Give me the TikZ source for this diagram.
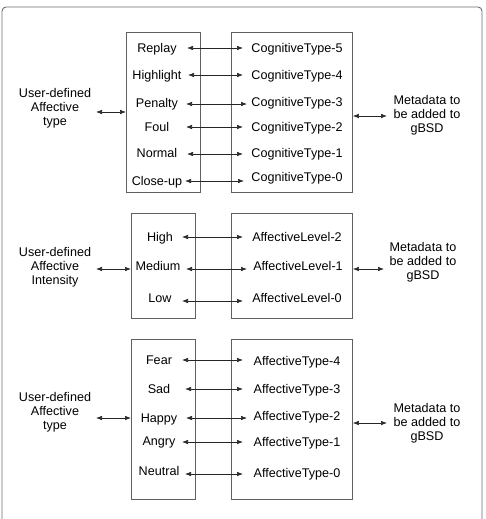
\documentclass[tikz,border=0pt]{standalone}
\usepackage{fontspec}
\setmainfont{Liberation Sans}
\usetikzlibrary{arrows.meta}
\begin{document}
\begin{tikzpicture}[x=1pt,y=-1pt,
  font=\fontsize{12.6}{14}\selectfont,
  frame/.style={draw=gray!85!black, line width=0.9pt, rounded corners=4pt},
  box/.style={draw=gray!75!black, line width=0.9pt, anchor=north west, inner sep=0pt},
  lbl/.style={inner sep=0pt, text height=9pt, text depth=0pt, anchor=center},
  multi/.style={inner sep=0pt, align=center, anchor=center},
  conn/.style={{Latex[length=6pt,width=4.5pt]}-{Latex[length=6pt,width=4.5pt]}, line width=0.6pt, draw=black!85}]
\useasboundingbox (0,0) rectangle (486,519);
\draw[frame] (2,530) -- (2,7) -- (482,7) -- (482,530);

% ---------- block 1 ----------
\node[box, minimum width=74pt, minimum height=160pt] (l1) at (126,32) {};
\node[box, minimum width=121pt, minimum height=160pt] (r1) at (231,32) {};
\foreach \n/\y/\a/\b [count=\i] in {
  Replay/CognitiveType-5/48/48,
  Highlight/CognitiveType-4/75/75,
  Penalty/CognitiveType-3/103/102,
  Foul/CognitiveType-2/127/127,
  Normal/CognitiveType-1/153/153,
  Close-up/CognitiveType-0/181/177}{
  \node[lbl] (la\i) at (157,\a) {\n};
  \node[lbl] (ra\i) at (297,\b) {\y};
}
\coordinate (p1) at (187,48);  \coordinate (q1) at (243,48);
\coordinate (p2) at (188,75);  \coordinate (q2) at (243,75);
\coordinate (p3) at (186,104); \coordinate (q3) at (247,104);
\coordinate (p4) at (186,127); \coordinate (q4) at (243,127);
\coordinate (p5) at (187,154); \coordinate (q5) at (243,154);
\coordinate (p6) at (185,181); \coordinate (q6) at (244,181);
\foreach \i in {1,...,6}{\draw[conn] (p\i) -- (q\i);}
\node[multi] (u1) at (55,108) {User-defined\\Affective\\type};
\node[multi] (m1) at (427,115) {Metadata to\\be added to\\gBSD};
\coordinate (u1e) at (96,112);
\coordinate (m1w) at (387,116);
\draw[conn] (u1e) -- (l1.west |- u1e);
\draw[conn] (r1.east |- m1w) -- (m1w);

% ---------- block 2 ----------
\node[box, minimum width=64pt, minimum height=105pt] (l2) at (131,213) {};
\node[box, minimum width=121pt, minimum height=105pt] (r2) at (231,213) {};
\node[lbl] (h2) at (160,237) {High};
\node[lbl] (md2) at (158,266) {Medium};
\node[lbl] (lo2) at (160,298) {Low};
\node[lbl] (al2) at (297,237) {AffectiveLevel-2};
\node[lbl] (al1) at (298,266) {AffectiveLevel-1};
\node[lbl] (al0) at (297,298) {AffectiveLevel-0};
\coordinate (s1) at (182,237); \coordinate (t1) at (243,237);
\coordinate (s2) at (186,269); \coordinate (t2) at (247,269);
\coordinate (s3) at (182,301); \coordinate (t3) at (243,301);
\foreach \i in {1,2,3}{\draw[conn] (s\i) -- (t\i);}
\node[multi] (u2) at (55,267) {User-defined\\Affective\\Intensity};
\node[multi] (m2) at (423,262) {Metadata to\\be added to\\gBSD};
\coordinate (u2e) at (96,269);
\coordinate (m2w) at (384,269);
\draw[conn] (u2e) -- (l2.west |- u2e);
\draw[conn] (r2.east |- m2w) -- (m2w);

% ---------- block 3 ----------
\node[box, minimum width=64pt, minimum height=160pt] (l3) at (131,339) {};
\node[box, minimum width=121pt, minimum height=160pt] (r3) at (231,339) {};
\foreach \n/\a/\b/\y [count=\i] in {
  Fear/360/361/AffectiveType-4,
  Sad/389/389/AffectiveType-3,
  Happy/418/416/AffectiveType-2,
  Angry/441/442/AffectiveType-1,
  Neutral/471/473/AffectiveType-0}{
  \node[lbl] (lc\i) at (159,\a) {\n};
  \node[lbl] (rc\i) at (297,\b) {\y};
}
\coordinate (v1) at (182,360); \coordinate (w1) at (243,360);
\coordinate (v2) at (185,389); \coordinate (w2) at (243,389);
\coordinate (v3) at (186,418); \coordinate (w3) at (247,418);
\coordinate (v4) at (182,442); \coordinate (w4) at (243,442);
\coordinate (v5) at (185,474); \coordinate (w5) at (243,474);
\foreach \i in {1,...,5}{\draw[conn] (v\i) -- (w\i);}
\node[multi] (u3) at (55,412) {User-defined\\Affective\\type};
\node[multi] (m3) at (427,423) {Metadata to\\be added to\\gBSD};
\coordinate (u3e) at (96,418);
\coordinate (m3w) at (387,423);
\draw[conn] (u3e) -- (l3.west |- u3e);
\draw[conn] (r3.east |- m3w) -- (m3w);
\end{tikzpicture}
\end{document}
